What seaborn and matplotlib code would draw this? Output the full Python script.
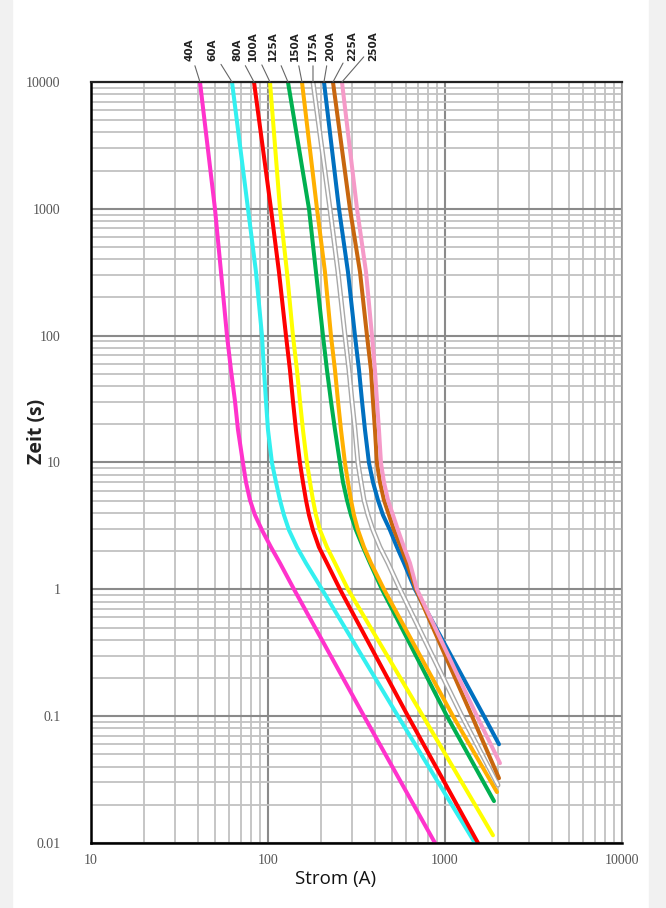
import numpy as np
import pandas as pd
import seaborn as sns
import matplotlib.pyplot as plt
import matplotlib.patheffects as pe
from matplotlib.patches import Rectangle
from matplotlib.ticker import FixedLocator, FixedFormatter, LogLocator, NullFormatter

# --- fuse ratings and colours ---
ratings = ["40A", "60A", "80A", "100A", "125A", "150A", "175A", "200A", "225A", "250A"]
colors = ["#FF33CC", "#33F0F0", "#FF0000", "#FFFF00", "#00B050",
          "#FFB000", "#FFFFFF", "#0070C0", "#C8660E", "#F59AC8"]

# --- trip curves: current (A) vs time (s) ---
t_common = [10000, 1000, 318, 100, 53.6, 30.5, 18.1, 9.9, 7.0, 5.05, 3.85, 2.93, 2.15, 1.61, 1.0, 0.1]

i_40 = [41.28, 50.18, 54.27, 58.68, 61.80, 65.10, 67.70, 72.24, 75.11, 79.14, 84.45, 92.49,
        103.98, 116.9, 140.3, 348.8, 878.2]
t_40 = t_common + [0.01]

i_60 = [62.61, 77.10, 85.55, 92.49, 94.93, 97.43, 100.0, 105.34, 110.97, 116.9, 123.1, 131.4,
        145.8, 163.9, 201.9, 542.6, 1477]
t_60 = t_common + [0.01]

i_80 = [83.36, 103.98, 115.38, 126.4, 133.1, 138.4, 143.9, 151.6, 157.6, 163.9, 170.5, 179.6,
        194.1, 215.4, 255.1, 618.0, 1536]
t_80 = t_common + [0.01]

i_100 = [102.63, 116.9, 128.0, 138.4, 145.8, 151.6, 157.6, 166.1, 172.7, 179.6, 186.7, 196.7,
         215.4, 239.1, 283.1, 751, 1867]
t_100 = t_common + [0.0115]

i_125 = [129.7, 170.5, 186.7, 204.5, 215.4, 226.9, 239.1, 255.1, 265.3, 279.5, 294.4, 314.2,
         344.3, 377.0, 440.6, 1026, 1892]
t_125 = t_common + [0.0214]

i_150 = [155.6, 189.2, 209.9, 226.9, 239.1, 248.6, 258.5, 272.3, 283.1, 294.4, 306.1, 322.5,
         348.8, 381.9, 452.2, 1110, 1967]
t_150 = t_common + [0.0252]

i_175 = [179.6, 224.0, 248.6, 272.3, 286.9, 298.2, 310.1, 322.5, 335.4, 348.8, 367.3, 391.9,
         429.2, 476.4, 556.9, 1247, 1993]
t_175 = t_common + [0.0286]

i_200 = [207.2, 251.9, 283.1, 310.1, 326.8, 339.8, 353.2, 372.1, 391.9, 418.2, 446.3, 489.0,
         535.6, 586.7, 676.9, 1661, 2019]
t_200 = t_common + [0.060]

i_225 = [232.9, 290.5, 331.1, 362.6, 381.9, 391.9, 402.2, 412.8, 429.2, 452.2, 482.7, 515.1,
         564.2, 610.0, 685.8, 1421, 2019]
t_225 = t_common + [0.0324]

i_250 = [261.8, 318.4, 357.9, 386.9, 402.2, 412.8, 423.7, 434.9, 452.2, 476.4, 508.5, 542.6,
         586.7, 634.3, 694.8, 1516, 2045]
t_250 = t_common + [0.0426]

currents = [i_40, i_60, i_80, i_100, i_125, i_150, i_175, i_200, i_225, i_250]
times = [t_40, t_60, t_80, t_100, t_125, t_150, t_175, t_200, t_225, t_250]

# label offsets (pixels) relative to the top of each curve
label_dx = [-10, -20, -17, -17, -15, -7, 0, 6, 19, 31]

x_ticks = [10, 100, 1000, 10000]
x_labels = ["10", "100", "1000", "10000"]
y_ticks = [0.01, 0.1, 1, 10, 100, 1000, 10000]
y_labels = ["0.01", "0.1", "1", "10", "100", "1000", "10000"]

# --- long table for seaborn ---
rows = []
for name, cur, tim in zip(ratings, currents, times):
    for k, (c, t) in enumerate(zip(cur, tim)):
        rows.append({"fuse": name, "order": k, "strom": c, "zeit": t})
df = pd.DataFrame(rows)

sns.set_theme(style="white")
plt.rcParams["font.family"] = ["DejaVu Sans"]

fig = plt.figure(figsize=(6.66, 9.08), dpi=100)
fig.patch.set_facecolor("white")
# light grey page edges
fig.add_artist(Rectangle((0, 0), 0.018, 1, transform=fig.transFigure, color="#f1f1f1", zorder=0))
fig.add_artist(Rectangle((0.975, 0), 0.025, 1, transform=fig.transFigure, color="#f1f1f1", zorder=0))

ax = fig.add_axes([0.1366, 0.0716, 0.7973, 0.8381])
ax.set_xscale("log")
ax.set_yscale("log")
ax.set_xlim(10, 10000)
ax.set_ylim(0.01, 10000)

# grid
ax.xaxis.set_minor_locator(LogLocator(base=10, subs=np.arange(2, 10)))
ax.yaxis.set_minor_locator(LogLocator(base=10, subs=np.arange(2, 10)))
ax.xaxis.set_minor_formatter(NullFormatter())
ax.yaxis.set_minor_formatter(NullFormatter())
ax.grid(which="minor", color="#c2c2c2", lw=1.3)
ax.grid(which="major", color="#8a8a8a", lw=1.5)
ax.set_axisbelow(True)

for name, col in zip(ratings, colors):
    sub = df[df["fuse"] == name]
    if name == "175A":
        sns.lineplot(data=sub, x="strom", y="zeit", sort=False, estimator=None,
                     color=col, lw=1.6, ax=ax,
                     path_effects=[pe.Stroke(linewidth=3.6, foreground="#a8a8a8"), pe.Normal()])
    else:
        sns.lineplot(data=sub, x="strom", y="zeit", sort=False, estimator=None,
                     color=col, lw=2.9, ax=ax)

# labels at the top with leader lines
for name, cur, dx in zip(ratings, currents, label_dx):
    ax.annotate(name, xy=(cur[0], 10000), xytext=(dx * 0.72, 15),
                textcoords="offset points", rotation=90, ha="center", va="bottom",
                fontsize=7.5, fontweight="bold", color="#222222",
                arrowprops=dict(arrowstyle="-", color="#666666", lw=0.8,
                                shrinkA=1, shrinkB=0),
                annotation_clip=False)

ax.xaxis.set_major_locator(FixedLocator(x_ticks))
ax.xaxis.set_major_formatter(FixedFormatter(x_labels))
ax.yaxis.set_major_locator(FixedLocator(y_ticks))
ax.yaxis.set_major_formatter(FixedFormatter(y_labels))
ax.tick_params(which="major", direction="out", length=4, width=1, color="black",
               labelsize=10, labelcolor="#555555")
ax.tick_params(axis="y", which="major", pad=18)
ax.tick_params(axis="x", which="major", pad=4)
ax.tick_params(which="minor", length=0)
for lab in ax.get_xticklabels() + ax.get_yticklabels():
    lab.set_family("Liberation Serif")

for side in ["left", "bottom"]:
    ax.spines[side].set_color("black")
    ax.spines[side].set_linewidth(1.8)
ax.spines["top"].set_color("#222222")
ax.spines["top"].set_linewidth(1.6)
ax.spines["right"].set_color("#9a9a9a")
ax.spines["right"].set_linewidth(1.2)

ax.set_xlabel("Strom (A)", fontsize=13.5, family="Open Sans", color="#111111")
ax.set_ylabel("Zeit (s)", fontsize=14, family="Open Sans", fontweight="bold", color="#222222")
ax.xaxis.set_label_coords(0.461, -0.036)
ax.yaxis.set_label_coords(-0.083, 0.541)

plt.savefig("out.png", dpi=100, facecolor=fig.get_facecolor())
